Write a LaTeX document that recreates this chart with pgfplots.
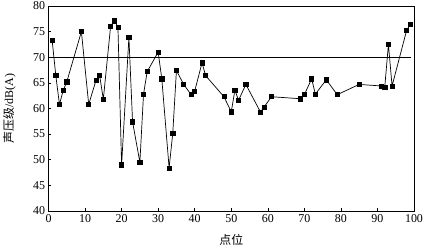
\documentclass[border=0pt]{standalone}
\usepackage{fontspec}
\setmainfont{Liberation Serif}
\newfontfamily\cjk{Noto Sans CJK SC}
\usepackage{pgfplots}
\pgfplotsset{compat=1.18}
\begin{document}
\begin{tikzpicture}
\begin{axis}[
  scale only axis,
  width=365.5bp, height=205bp,
  xmin=0, xmax=100, ymin=40, ymax=80,
  xtick={0,10,...,100}, ytick={40,45,...,80},
  tick align=inside, xtick pos=bottom, ytick pos=left,
  major tick length=3bp,
  axis line style={line width=0.7pt},
  tick style={line width=0.6pt, black},
  /pgf/number format/assume math mode=true,
  tick label style={font=\fontsize{12}{14}\selectfont},
  xlabel={\cjk 点位}, ylabel={\cjk 声压级\rmfamily/dB(A)},
  label style={font=\fontsize{12}{14}\selectfont},
  xlabel style={at={(axis description cs:0.5,0)}, anchor=center, yshift=-29bp},
  ylabel style={at={(axis description cs:-0.107,0.5)}, anchor=center},
  clip=false,
]
\addplot[black, line width=0.7pt, mark=square*, mark size=2.1pt, mark options={solid}] coordinates {
(1,73.3) (2,66.4) (3,60.8) (4,63.5) (5,65.2) (9,75.0) (11,60.8) (13,65.5) (14,66.4) (15,61.8)
(17,76.1) (18,77.1) (19,75.9) (20,49.0) (22,73.9) (23,57.4) (25,49.5) (26,62.8) (27,67.2)
(30,71.0) (31,65.8) (33,48.4) (34,55.2) (35,67.4) (37,64.7) (39,62.7) (40,63.4) (42,68.9)
(43,66.4) (48,62.3) (50,59.35) (51,63.6) (52,61.6) (54,64.7) (58,59.3) (59,60.3) (61,62.3)
(69,61.9) (70,62.7) (72,65.8) (73,62.8) (76,65.6) (79,62.7) (85,64.7) (91,64.4) (92,64.2)
(93,72.5) (94,64.4) (98,75.3) (99,76.4)
};
\addplot[black, line width=0.7pt, no marks] coordinates {(0,70) (99.3,70)};
\end{axis}
\pgfresetboundingbox
\useasboundingbox (-48.5bp,-41bp) rectangle (377.5bp,211bp);
\end{tikzpicture}
\end{document}
